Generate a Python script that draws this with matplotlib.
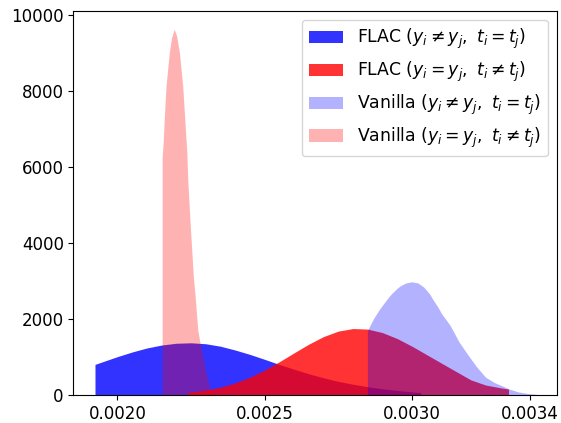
import numpy as np
import matplotlib
matplotlib.use("Agg")
import matplotlib.pyplot as plt

# density curves (x = distance, y = density)
flac_diff_x = [0.001924, 0.00195, 0.002, 0.00205, 0.0021, 0.00215, 0.0022, 0.00225,
               0.0023, 0.00235, 0.0024, 0.00245, 0.0025, 0.00255, 0.0026, 0.00265,
               0.0027, 0.00275, 0.0028, 0.00285, 0.0029, 0.00295, 0.003, 0.00303]
flac_diff_y = [807, 877, 1011, 1133, 1238, 1316, 1363, 1375,
               1350, 1285, 1185, 1070, 940, 805, 680, 560,
               455, 360, 285, 220, 165, 120, 85, 65]

flac_same_x = [0.002239, 0.00225, 0.0023, 0.00235, 0.0024, 0.00245, 0.0025, 0.00255,
               0.0026, 0.00265, 0.0027, 0.00275, 0.0028, 0.00285, 0.0029, 0.00295,
               0.003, 0.00305, 0.0031, 0.00315, 0.0032, 0.00325, 0.0033, 0.003328]
flac_same_y = [70, 75, 128, 207, 320, 470, 658, 877,
               1111, 1340, 1539, 1682, 1750, 1735, 1643, 1487,
               1286, 1064, 841, 620, 400, 265, 192, 158]

van_diff_x = [0.002849, 0.00287, 0.00289, 0.0029, 0.00292, 0.00293, 0.00295, 0.00296,
              0.00298, 0.003, 0.00302, 0.00304, 0.00306, 0.00307, 0.00309, 0.0031,
              0.00313, 0.00316, 0.00319, 0.00322, 0.00325, 0.00328, 0.0033, 0.00333,
              0.00336, 0.00339, 0.003425]
van_diff_y = [1700, 2015, 2260, 2363, 2570, 2660, 2810, 2871,
              2950, 2979, 2950, 2841, 2660, 2530, 2290, 2150,
              1830, 1397, 1060, 740, 470, 330, 263, 160,
              85, 45, 18]

van_same_x = [0.002152, 0.0021552, 0.002159, 0.002162, 0.002165, 0.0021705, 0.002176,
              0.002184, 0.002193, 0.002201, 0.002211, 0.0022164, 0.002222, 0.002229,
              0.002236, 0.002239, 0.002247, 0.002258, 0.0022639, 0.002273, 0.002281,
              0.0022979, 0.002315, 0.002328]
van_same_y = [6270, 6600, 7230, 7680, 8110, 8550, 8990,
              9400, 9620, 9450, 8990, 8550, 8110, 7230,
              6360, 5654, 4515, 3110, 2600, 1709, 1360,
              700, 131, 0]

labels = [r'FLAC ($y_i \neq y_j,\ t_i = t_j$)',
          r'FLAC ($y_i = y_j,\ t_i \neq t_j$)',
          r'Vanilla ($y_i \neq y_j,\ t_i = t_j$)',
          r'Vanilla ($y_i = y_j,\ t_i \neq t_j$)']
xtick_vals = [0.0020, 0.0025, 0.0030, 0.0034]

plt.rcParams['font.size'] = 12

fig = plt.figure(figsize=(5.61, 4.23), dpi=100)
ax = fig.add_subplot(111)
fig.subplots_adjust(left=0.131, right=0.992, top=0.973, bottom=0.066)

ax.fill_between(flac_diff_x, flac_diff_y, color='blue', alpha=0.8, lw=0, label=labels[0])
ax.fill_between(flac_same_x, flac_same_y, color='red', alpha=0.8, lw=0, label=labels[1])
ax.fill_between(van_diff_x, van_diff_y, color='blue', alpha=0.3, lw=0, label=labels[2])
ax.fill_between(van_same_x, van_same_y, color='red', alpha=0.3, lw=0, label=labels[3])

ax.set_xlim(0.001851, 0.003491)
ax.set_ylim(0, 10090)
ax.set_xticks(xtick_vals)
ax.set_xticklabels(['%.4f' % v for v in xtick_vals])
ax.legend(loc='upper right', fontsize=12.4)

fig.savefig('out.png', dpi=100)
